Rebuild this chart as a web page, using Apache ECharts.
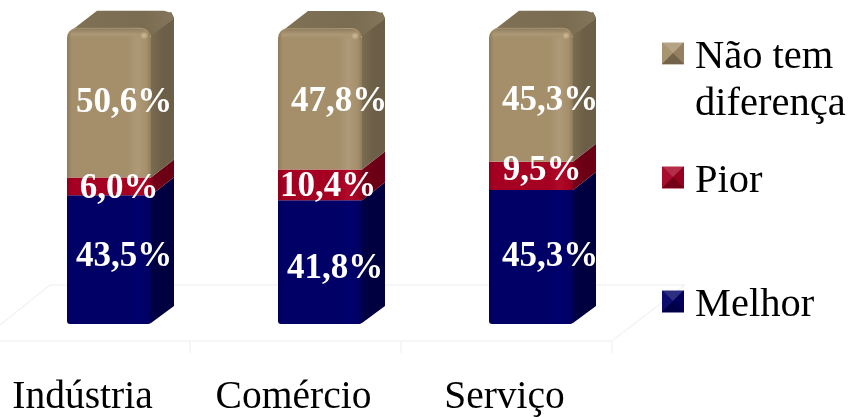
<!DOCTYPE html>
<html><head><meta charset="utf-8">
<style>html,body{margin:0;padding:0;background:#fff}#c{width:848px;height:417px}</style>
<script src="https://cdn.jsdelivr.net/npm/echarts@6/dist/echarts.min.js"></script>
</head><body><div id="c"></div>
<script>
const categories = ['Indústria', 'Comércio', 'Serviço'];
const melhor = [43.5, 41.8, 45.3];
const pior = [6.0, 10.4, 9.5];
const naoTem = [50.6, 47.8, 45.3];
const seriesNames = ['Não tem diferença', 'Pior', 'Melhor'];

const FONT = '"Liberation Serif","Times New Roman",serif';
const palette = {
  'Não tem diferença': {base:'#A58F6B', dark:'#8F7C5C', light:'#AE9A78', side:'#6C5F47', sideL:'#7A6C50'},
  'Pior': {base:'#A50021', dark:'#8E001C', light:'#B00A2A', side:'#6B0015', sideL:'#7A001A'},
  'Melhor': {base:'#000066', dark:'#00005A', light:'#00006E', side:'#000040', sideL:'#00004C'}
};
const frontW = 84, depthX = 23, depthY = 18, shiftX = -17.5, shiftY = -17;
// hand placement of the labels in the original, per series and category
const nudge = {
  'Não tem diferença': [[1,0],[5,3],[5,6]],
  'Pior': [[-4,3],[-6,2],[-3,-5]],
  'Melhor': [[1,-3],[1,7],[5,0]]
};

function hGrad(stops){return {type:'linear',x:0,y:0,x2:1,y2:0,colorStops:stops};}

function makeSeries(name, values, bases, isTop, isBottom){
  const pal = palette[name];
  return {
    name, type:'custom', coordinateSystem:'cartesian2d',
    itemStyle:{color:pal.base},
    data: values.map((v,i)=>[i, bases[i], bases[i]+v, v]),
    encode:{x:0,y:[1,2]},
    clip:false,
    renderItem(params, api){
      const cat = api.value(0);
      const p0 = api.coord([cat, api.value(1)]);
      const p1 = api.coord([cat, api.value(2)]);
      const xF = p0[0] + shiftX, xR = xF + frontW, xB = xR + depthX;
      const y0 = p0[1] + shiftY, y1 = p1[1] + shiftY;
      const kids = [];
      // side face
      const sidePts = isTop
        ? [[xR,y0],[xB,y0-depthY],[xB,y1-depthY+8],[xB-3,y1-depthY+2],[xR,y1+6]]
        : isBottom
        ? [[xR-8,y0],[xR,y0-1],[xB,y0-depthY],[xB,y1-depthY],[xR,y1]]
        : [[xR,y0],[xB,y0-depthY],[xB,y1-depthY],[xR,y1]];
      kids.push({type:'polygon',shape:{points:sidePts},
        style:{fill:hGrad([{offset:0,color:pal.sideL},{offset:.5,color:pal.side},{offset:1,color:pal.side}])}});
      if(isTop){
        kids.push({type:'polygon',shape:{points:[
          [xF+1,y1+10],[xF+8,y1],[xF+30,y1-depthY+1],[xB-10,y1-depthY+1],[xB-3,y1-depthY+3],[xB,y1-depthY+9],[xR,y1+8]
        ]},style:{fill:{type:'linear',x:0,y:0,x2:1,y2:0,colorStops:[
          {offset:0,color:'#7F7156'},{offset:.7,color:'#7A6C50'},{offset:1,color:'#84765A'}]}}});
      }
      // front face
      kids.push({type:'rect',
        shape:{x:xF,y:y1,width:frontW,height:y0-y1,r:isTop?[10,10,0,0]:(isBottom?[0,0,3,3]:0)},
        style:{fill:hGrad([{offset:0,color:pal.dark},{offset:.06,color:pal.base},{offset:.72,color:pal.base},
          {offset:.84,color:pal.light},{offset:.95,color:pal.base},{offset:1,color:pal.dark}])}});
      if(isTop){
        kids.push({type:'rect',shape:{x:xF+3,y:y1+1,width:frontW-6,height:11,r:[8,8,0,0]},
          style:{fill:{type:'linear',x:0,y:0,x2:0,y2:1,colorStops:[
            {offset:0,color:'#8F7E60'},{offset:.5,color:'#AD9875'},{offset:1,color:'rgba(165,143,107,0)'}]}}});
        kids.push({type:'circle',shape:{cx:xR-7,cy:y1+8,r:4},style:{fill:{type:'radial',x:.5,y:.5,r:.5,colorStops:[
          {offset:0,color:'#D0BE98'},{offset:1,color:'rgba(208,190,152,0)'}]}}});
      }
      // value label
      const n = nudge[name][cat];
      kids.push({type:'text',z2:20,style:{
        text:api.value(3).toFixed(1).replace('.',',')+'%',
        x:xF+56+n[0],y:(y0+y1)/2+n[1],align:'center',verticalAlign:'middle',
        font:'bold 35px '+FONT,fill:'#fff'}});
      return {type:'group',children:kids};
    }
  };
}

const base0 = melhor.map(()=>0);
const base1 = melhor.slice();
const base2 = melhor.map((v,i)=>v+pior[i]);

// icon: a 22x22 square in a wider, taller box, so the text sits further right and lower
const legendIcon = 'path://M0 0H22V22H0Z M28 30L28 30.01Z';
function legendAt(name, top, extra){
  return Object.assign({
    data:[name], left:662, top, orient:'vertical', padding:0, itemWidth:28, itemHeight:30, itemGap:0,
    icon:legendIcon, selectedMode:false,
    textStyle:{fontFamily:FONT,fontSize:40.5,color:'#000'}
  }, extra||{});
}

function bevel(x,y,s){
  const c=[x+s/2,y+s/2], a=[x,y], b=[x+s,y], d=[x+s,y+s], e=[x,y+s];
  return [
    {pts:[a,b,c],f:'rgba(255,255,255,.18)'},
    {pts:[b,d,c],f:'rgba(0,0,0,.10)'},
    {pts:[d,e,c],f:'rgba(0,0,0,.30)'},
    {pts:[e,a,c],f:'rgba(255,255,255,.05)'}
  ].map(t=>({type:'polygon',z:10,silent:true,shape:{points:t.pts},style:{fill:t.f}}));
}
function line(x1,y1,x2,y2){
  return {type:'line',z:0,silent:true,shape:{x1,y1,x2,y2},style:{stroke:'#f3f3f3',lineWidth:1.5}};
}

const chart = echarts.init(document.getElementById('c'),null,{renderer:'canvas'});
chart.setOption({
  animation:false,
  backgroundColor:'#fff',
  grid:{left:-21,right:236,top:45,height:296,containLabel:false,outerBoundsMode:'none'},
  xAxis:{type:'category',data:categories,
    axisLine:{lineStyle:{color:'#f3f3f3',width:1.5}},
    axisTick:{show:true,length:12,lineStyle:{color:'#f3f3f3',width:1.5}},
    axisLabel:{margin:37,fontFamily:FONT,fontSize:39.5,color:'#000',padding:[0,4,0,0]}},
  yAxis:{type:'value',min:0,max:100,show:false,splitLine:{show:false}},
  legend:[
    legendAt(seriesNames[0],-13,{formatter:()=>'\u00a0\nNão tem\ndiferença',
      textStyle:{fontFamily:FONT,fontSize:40.5,color:'#000',lineHeight:47}}),
    legendAt(seriesNames[1],161),
    legendAt(seriesNames[2],285)
  ],
  graphic:[
    line(50,285,685,285), line(0,325,50,285), line(613,340,685,285),
    ...bevel(662,42,22), ...bevel(662,166,22), ...bevel(662,290,22)
  ],
  series:[
    makeSeries(seriesNames[2],melhor,base0,false,true),
    makeSeries(seriesNames[1],pior,base1,false,false),
    makeSeries(seriesNames[0],naoTem,base2,true,false)
  ]
});
</script></body></html>
